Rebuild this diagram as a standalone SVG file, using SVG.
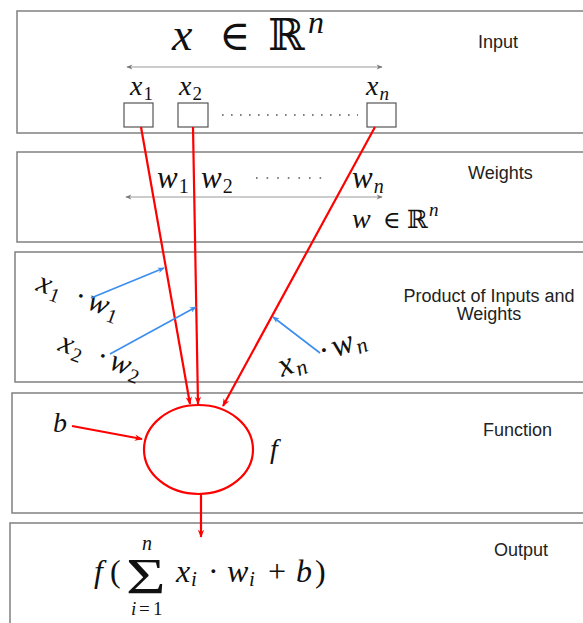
<svg xmlns="http://www.w3.org/2000/svg" width="583" height="623" viewBox="0 0 583 623">
<style>
.panel{fill:#fff;stroke:#808080;stroke-width:1.5}
.lbl{font-family:"Liberation Sans",Arial,sans-serif;font-size:18px;fill:#222}
.m{font-family:"Liberation Serif","DejaVu Serif",serif;font-style:italic;fill:#111}
.r{font-family:"Liberation Serif","DejaVu Serif",serif;font-style:normal;fill:#111}
.bb{font-family:"DejaVu Serif",serif;font-style:normal;fill:#111}
.red{stroke:#f00;stroke-width:2.2;fill:none}
.blue{stroke:#3a8ef0;stroke-width:1.6;fill:none}
.gray{stroke:#999;stroke-width:1.2;fill:none}
.box{fill:#fff;stroke:#555;stroke-width:1.2}
</style>
<defs>
<marker id="ar2" viewBox="0 0 10 10" refX="9" refY="5" markerWidth="11" markerHeight="8" orient="auto" markerUnits="userSpaceOnUse"><path d="M0,1 L10,5 L0,9 L3,5 Z" fill="#f00"/></marker>
<marker id="ab" viewBox="0 0 10 10" refX="9" refY="5" markerWidth="9" markerHeight="7" orient="auto" markerUnits="userSpaceOnUse"><path d="M0,1 L10,5 L0,9 L3,5 Z" fill="#3a8ef0"/></marker>
<marker id="ag" viewBox="0 0 10 10" refX="9" refY="5" markerWidth="7" markerHeight="6" orient="auto-start-reverse" markerUnits="userSpaceOnUse"><path d="M0,1 L10,5 L0,9 L3,5 Z" fill="#777"/></marker>
</defs>
<rect width="583" height="623" fill="#fff"/>

<g id="input-panel">
<rect class="panel" x="17" y="11" width="580" height="122"/>
<text class="m" x="172" y="50" font-size="46">x</text>
<text class="r" x="219" y="50" font-size="42">∈</text>
<text class="bb" x="268" y="50" font-size="44">ℝ</text>
<text class="m" x="308" y="33" font-size="32">n</text>
<text class="lbl" x="478" y="48">Input</text>
<line class="gray" x1="127" y1="67" x2="382" y2="67" marker-start="url(#ag)" marker-end="url(#ag)"/>
<text class="m" x="130" y="95" font-size="28">x<tspan class="r" font-size="19" dx="1" dy="5">1</tspan></text>
<text class="m" x="179" y="95" font-size="28">x<tspan class="r" font-size="19" dx="1" dy="5">2</tspan></text>
<text class="m" x="366" y="95" font-size="28">x<tspan font-size="19" dx="1" dy="5">n</tspan></text>
<rect class="box" x="124" y="103" width="29" height="24"/>
<rect class="box" x="178" y="103" width="30" height="24"/>
<rect class="box" x="367" y="103" width="29" height="24"/>
<line x1="222" y1="115" x2="358" y2="115" stroke="#555" stroke-width="1.6" stroke-dasharray="1.6,7.4"/>
</g>

<g id="weights-panel">
<rect class="panel" x="17" y="152" width="580" height="90"/>
<text class="m" x="157" y="188" font-size="31">w<tspan class="r" font-size="20" dx="1" dy="5">1</tspan></text>
<text class="m" x="201" y="188" font-size="31">w<tspan class="r" font-size="20" dx="1" dy="5">2</tspan></text>
<line x1="256" y1="178" x2="322" y2="178" stroke="#555" stroke-width="1.6" stroke-dasharray="1.6,9"/>
<text class="m" x="352" y="188" font-size="31">w<tspan font-size="20" dx="1" dy="5">n</tspan></text>
<text class="lbl" x="468" y="179">Weights</text>
<line class="gray" x1="126" y1="197" x2="382" y2="197" stroke="#666" marker-start="url(#ag)" marker-end="url(#ag)"/>
<text class="m" x="352" y="228" font-size="28">w</text>
<text class="r" x="383" y="228" font-size="24">∈</text>
<text class="bb" x="407" y="228" font-size="25">ℝ</text>
<text class="m" x="429" y="216" font-size="19">n</text>
</g>

<g id="product-panel">
<rect class="panel" x="15" y="252" width="582" height="130"/>
<text class="m" font-size="31" transform="translate(35,290) rotate(20)">x<tspan class="r" font-size="20" x="15" dy="5">1</tspan><tspan class="r" x="40" dy="-5">·</tspan><tspan x="54">w</tspan><tspan class="r" font-size="20" x="76" dy="5">1</tspan></text>
<text class="m" font-size="31" transform="translate(57,350) rotate(20)">x<tspan class="r" font-size="20" x="15" dy="5">2</tspan><tspan class="r" x="40" dy="-5">·</tspan><tspan x="54">w</tspan><tspan class="r" font-size="20" x="76" dy="5">2</tspan></text>
<text class="m" font-size="33" transform="translate(282,377) rotate(-20)">x<tspan font-size="22" x="16" dy="5">n</tspan><tspan class="r" x="43" dy="-5">·</tspan><tspan x="57">w</tspan><tspan font-size="22" x="80" dy="5">n</tspan></text>
<text class="lbl" x="489" y="302" text-anchor="middle">Product of Inputs and</text>
<text class="lbl" x="489" y="320" text-anchor="middle">Weights</text>
</g>

<g id="function-panel">
<rect class="panel" x="12" y="393" width="585" height="120"/>
<ellipse cx="198.5" cy="449.5" rx="54.5" ry="44.5" class="red"/>
<text class="m" x="53" y="432" font-size="28">b</text>
<text class="m" x="270" y="458" font-size="28">f</text>
<text class="lbl" x="483" y="436">Function</text>
</g>

<g id="output-panel">
<rect class="panel" x="10" y="523" width="590" height="110"/>
<text class="lbl" x="494" y="556">Output</text>
<text class="m" x="94" y="582" font-size="32">f<tspan class="r" x="110">(</tspan></text>
<text class="r" font-size="50" transform="translate(126,593) scale(1.36,1.0)">Σ</text>
<text class="m" x="142" y="550" font-size="20">n</text>
<text class="m" x="131" y="615" font-size="19">i<tspan class="r" x="139">=</tspan><tspan class="r" x="153">1</tspan></text>
<text class="m" x="176" y="582" font-size="32">x<tspan font-size="21" x="191" dy="4">i</tspan><tspan class="r" x="208" dy="-4">·</tspan><tspan x="227">w</tspan><tspan font-size="21" x="249" dy="4">i</tspan><tspan class="r" x="268" dy="-4">+</tspan><tspan x="296">b</tspan><tspan class="r" x="315">)</tspan></text>
</g>

<g id="connectors">
<line class="red" x1="141" y1="127" x2="190" y2="404" marker-end="url(#ar2)"/>
<line class="red" x1="193" y1="127" x2="198" y2="404" marker-end="url(#ar2)"/>
<line class="red" x1="375" y1="127" x2="223" y2="406" marker-end="url(#ar2)"/>
<line class="red" x1="72" y1="426" x2="142" y2="439" marker-end="url(#ar2)"/>
<line class="red" x1="201" y1="494" x2="201" y2="537" marker-end="url(#ar2)"/>
<line class="blue" x1="91" y1="298" x2="164" y2="268" marker-end="url(#ab)"/>
<line class="blue" x1="110" y1="354" x2="196" y2="307" marker-end="url(#ab)"/>
<line class="blue" x1="320" y1="353" x2="273" y2="317" marker-end="url(#ab)"/>
</g>
</svg>
